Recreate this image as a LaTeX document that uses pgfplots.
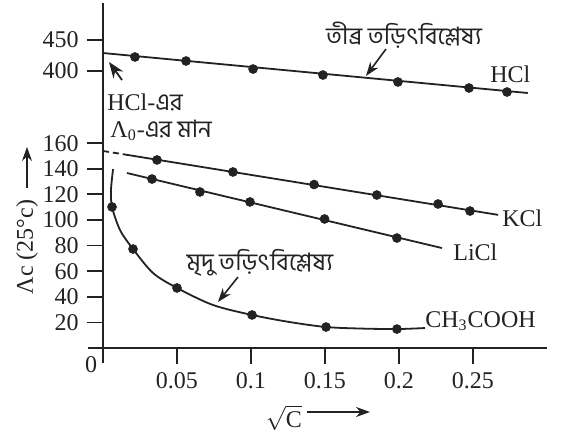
\documentclass[border=0pt]{standalone}
\usepackage{fontspec}
\setmainfont{Liberation Serif}
\newfontfamily\bn[Script=Bengali]{Hind Siliguri}
\usepackage{pgfplots}
\pgfplotsset{compat=1.18}
\usetikzlibrary{arrows.meta}
\definecolor{ink}{HTML}{222222}
\begin{document}
\fontsize{12}{14}\selectfont
\begin{tikzpicture}[font=\fontsize{12}{14}\selectfont]
\useasboundingbox (-51.5pt,-41pt) rectangle (235.5pt,174pt);
\pgfplotsset{common/.style={scale only axis, width=222pt, xmin=0, xmax=0.3, clip=false,
  axis line style={-, ink, line width=0.9pt},
  tick style={ink, line width=0.9pt}, tick align=outside, major tick length=8pt,
  /pgf/number format/assume math mode=true,
  ticklabel style={font=\fontsize{12}{14}\selectfont, text=ink}}}
\begin{axis}[common, height=110.6pt, ymin=0, ymax=172.8,
  axis x line*=bottom, axis y line*=left,
  xtick={0.05,0.1,0.15,0.2,0.25}, xticklabels={0.05,0.1,0.15,0.2,0.25},
  xticklabel style={inner sep=1pt, yshift=-3pt},
  ytick={20,40,...,160}]
% KCl
\addplot[ink, line width=0.9pt, dash pattern=on 3pt off 2pt] coordinates {(0,153.9) (0.0135,151.4)};
\addplot[ink, line width=0.9pt] coordinates {(0.0135,151.4) (0.267,104)};
\addplot[ink, only marks, mark=*, mark size=2.2pt] coordinates {(0.0365,146.9) (0.0878,137.5) (0.1426,127.7) (0.185,119.5) (0.2264,112.5) (0.248,107)};
% LiCl
\addplot[ink, line width=0.9pt] coordinates {(0.0162,136.7) (0.229,78.1)};
\addplot[ink, only marks, mark=*, mark size=2.2pt] coordinates {(0.0331,132) (0.0655,121.9) (0.0993,114.1) (0.1497,100.8) (0.1986,85.9)};
% CH3COOH
\addplot[ink, line width=0.9pt, smooth] coordinates {(0.0068,139.8) (0.0054,123.4) (0.0061,110.2) (0.0115,92.2) (0.0203,77.3) (0.0338,58.6) (0.05,46.9) (0.0743,33.6) (0.1007,25.8) (0.126,20.3) (0.1507,16.4) (0.174,15.2) (0.1986,14.8) (0.2176,15.6)};
\addplot[ink, only marks, mark=*, mark size=2.2pt] coordinates {(0.0061,110.2) (0.0203,77.3) (0.05,46.9) (0.1007,25.8) (0.1507,16.4) (0.1986,14.8)};
% axis extensions at origin
\draw[ink, line width=0.9pt] (axis cs:-0.0101,0) -- (axis cs:0,0) -- (axis cs:0,-11.7);
\end{axis}
\begin{axis}[common, at={(0,110.6pt)}, height=62pt, ymin=310, ymax=510,
  hide x axis, axis y line*=left, ytick={400,450}]
\addplot[ink, line width=0.9pt] coordinates {(0,429) (0.287,364.5)};
\addplot[ink, only marks, mark=*, mark size=2.2pt] coordinates {(0.0216,422.6) (0.0561,416.1) (0.1014,403.2) (0.1486,393.5) (0.1993,382.3) (0.2473,372.6) (0.273,366.1)};
\end{axis}
\begin{scope}[shift={(-51.5pt,174pt)}, x=0.5pt, y=-0.5pt, text=ink]
\node[font=\bn\fontsize{12}{14}\selectfont] at (404,35) {তীব্র তড়িৎবিশ্লেষ্য};
\draw[ink, line width=0.8pt, -{Stealth[length=7pt,width=5pt]}] (386,49) -- (366,76);
\node[font=\bn\fontsize{12}{14}\selectfont] at (260,263) {মৃদু তড়িৎবিশ্লেষ্য};
\draw[ink, line width=0.8pt, -{Stealth[length=7pt,width=5pt]}] (238,277) -- (218,302);
\node[anchor=base west, inner sep=0pt] at (490,82) {HCl};
\node[anchor=base west, inner sep=0pt] at (502,226) {KCl};
\node[anchor=base west, inner sep=0pt] at (453,260) {LiCl};
\node[anchor=base west, inner sep=0pt] at (425,327) {CH\textsubscript{3}COOH};
\node[anchor=base west, inner sep=0pt] at (107,110) {HCl-{\bn এর}};
\node[anchor=base west, inner sep=0pt] at (110,137) {Λ\textsubscript{0}-{\bn এর মান}};
\draw[ink, line width=0.9pt, -{Stealth[length=8pt,width=6pt]}] (122,80) -- (109,62);
\node at (91,365) {0};
\node[inner sep=0pt] at (284,418) {$\sqrt{\mbox{C}}$};
\draw[ink, line width=0.8pt, -{Stealth[length=7pt,width=5pt]}] (307,412) -- (370,412);
\node[rotate=90] at (27,247) {Λc (25°c)};
\draw[ink, line width=0.8pt, -{Stealth[length=7pt,width=5pt]}] (27,188) -- (27,147);
\end{scope}
\end{tikzpicture}
\end{document}
